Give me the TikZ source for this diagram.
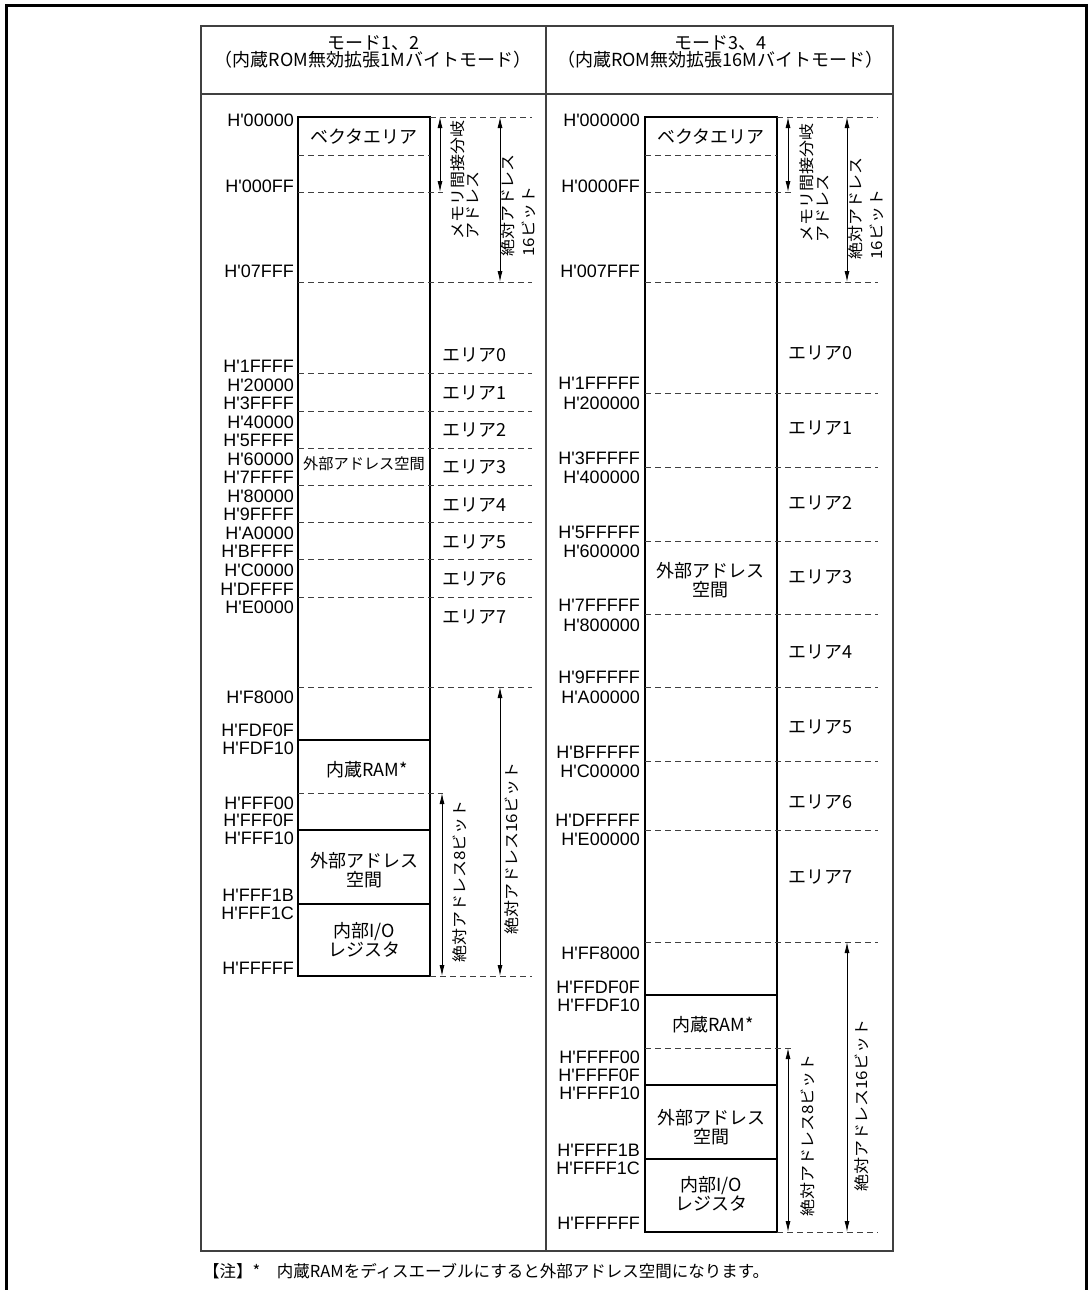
\documentclass[tikz,border=0pt]{standalone}
\usepackage{fontspec}
\setmainfont{Liberation Sans}
\newfontfamily\jpfont{Noto Sans CJK JP}
\usetikzlibrary{arrows.meta}
\newcommand{\hx}{H\textquotesingle}

\begin{document}
\begin{tikzpicture}[
    x=1pt, y=-1pt,
    every node/.style={inner sep=0pt, font=\fontsize{18}{20}\selectfont},
    addr/.style={anchor=east},
    jp/.style={font=\jpfont\fontsize{18}{18.5}\selectfont, align=center},
    jpsmall/.style={font=\jpfont\fontsize{15.2}{16}\selectfont},
    area/.style={font=\jpfont\fontsize{18}{18}\selectfont, anchor=west},
    vtext/.style={font=\jpfont\fontsize{17}{17}\selectfont, rotate=90, yscale=0.9, anchor=west},
    memline/.style={line width=1.4pt},
    tabline/.style={line width=1.2pt, black!75},
    bound/.style={line width=1pt, dash pattern=on 6pt off 4pt, black!75},
    dimarrow/.style={line width=0.9pt, {Latex[length=11pt,width=5pt]}-{Latex[length=11pt,width=5pt]}}
]
\useasboundingbox (0,0) rectangle (1088,1290);

% Outer frame
\draw[line width=3pt] (6,1292) -- (6,6) -- (1086,6) -- (1086,1292);

% Table
\draw[tabline] (201,26) rectangle (893,1251);
\draw[tabline] (201,94) -- (893,94);
\draw[tabline] (546,26) -- (546,1251);

% Headers
\node[jp] (lhead1) at (373,43) {モード1、2};
\node[jp] (lhead2) at (373,60) {（内蔵ROM無効拡張1Mバイトモード）};
\node[jp] (rhead1) at (720,43) {モード3、4};
\node[jp] (rhead2) at (720,60) {（内蔵ROM無効拡張16Mバイトモード）};

% ---------- Mode 1, 2 ----------
\draw[memline] (298,117) rectangle (430,976);
\foreach \y in {740,830,904} {
    \draw[memline] (298,\y) -- (430,\y);
}
\foreach \y in {282,373,411,448,485,522,559,597,687} {
    \draw[bound] (298,\y) -- (532,\y);
}
\draw[bound] (298,155) -- (430,155);
\draw[bound] (298,192) -- (443,192);
\draw[bound] (298,793) -- (443,793);
\draw[bound] (430,117) -- (532,117);
\draw[bound] (430,976) -- (532,976);

% Addresses
\foreach \y/\adr [count=\i] in {120/00000, 186/000FF, 271/07FFF, 366/1FFFF,
    385/20000, 403/3FFFF, 422/40000, 440/5FFFF, 459/60000, 477/7FFFF,
    496/80000, 514/9FFFF, 533/A0000, 551/BFFFF, 570/C0000, 589/DFFFF,
    607/E0000, 697/F8000, 730/FDF0F, 748/FDF10, 803/FFF00, 820/FFF0F,
    838/FFF10, 895/FFF1B, 913/FFF1C, 968/FFFFF} {
    \node[addr] (laddr\i) at (294,\y) {\hx\adr};
}

% Areas
\foreach \y [count=\i from 0] in {355,393,430,467,505,542,579,617} {
    \node[area] (larea\i) at (442,\y) {エリア\i};
}

% Blocks
\node[jp] (lvec) at (364,137) {ベクタエリア};
\node[jpsmall] (lext) at (364,464) {外部アドレス空間};
\node[jp] (lram) at (367,770) {内蔵RAM*};
\node[jp] (lext2) at (364,870) {外部アドレス\\空間};
\node[jp] (lio) at (364,940) {内部I/O\\レジスタ};

% Address ranges
\coordinate (lmemt) at (440,117);
\coordinate (lmemb) at (440,192);
\coordinate (labst) at (500,117);
\coordinate (labsb) at (500,282);
\coordinate (lsixt) at (500,687);
\coordinate (lsixb) at (500,976);
\coordinate (leigt) at (442,793);
\coordinate (leigb) at (442,976);
\draw[dimarrow] (lmemt) -- (lmemb);
\draw[dimarrow] (labst) -- (labsb);
\draw[dimarrow] (lsixt) -- (lsixb);
\draw[dimarrow] (leigt) -- (leigb);
\node[vtext] (lmem1) at (458,240) {メモリ間接分岐};
\node[vtext] (lmem2) at (473,240) {アドレス};
\node[vtext] (labs1) at (508,257) {絶対アドレス};
\node[vtext] (labs2) at (529,257) {16ビット};
\node[vtext] (leig) at (460,963) {絶対アドレス8ビット};
\node[vtext] (lsix) at (512,935) {絶対アドレス16ビット};

% ---------- Mode 3, 4 ----------
\draw[memline] (645,117) rectangle (777,1232);
\foreach \y in {995,1085,1159} {
    \draw[memline] (645,\y) -- (777,\y);
}
\foreach \y in {282,393,467,541,614,687,761,830,942} {
    \draw[bound] (645,\y) -- (878,\y);
}
\draw[bound] (645,155) -- (777,155);
\draw[bound] (645,192) -- (791,192);
\draw[bound] (645,1048) -- (791,1048);
\draw[bound] (777,117) -- (878,117);
\draw[bound] (777,1232) -- (878,1232);

% Addresses
\foreach \y/\adr [count=\i] in {120/000000, 186/0000FF, 271/007FFF,
    383/1FFFFF, 403/200000, 458/3FFFFF, 477/400000, 532/5FFFFF,
    551/600000, 605/7FFFFF, 625/800000, 677/9FFFFF, 697/A00000,
    752/BFFFFF, 771/C00000, 820/DFFFFF, 839/E00000, 953/FF8000,
    987/FFDF0F, 1005/FFDF10, 1057/FFFF00, 1075/FFFF0F, 1093/FFFF10,
    1150/FFFF1B, 1168/FFFF1C, 1223/FFFFFF} {
    \node[addr] (raddr\i) at (640,\y) {\hx\adr};
}

% Areas
\foreach \y [count=\i from 0] in {353,428,503,577,652,727,802,877} {
    \node[area] (rarea\i) at (788,\y) {エリア\i};
}

% Blocks
\node[jp] (rvec) at (711,137) {ベクタエリア};
\node[jp] (rext) at (710,580) {外部アドレス\\空間};
\node[jp] (rram) at (713,1025) {内蔵RAM*};
\node[jp] (rext2) at (711,1127) {外部アドレス\\空間};
\node[jp] (rio) at (711,1194) {内部I/O\\レジスタ};

% Address ranges
\coordinate (rmemt) at (788,117);
\coordinate (rmemb) at (788,192);
\coordinate (rabst) at (847,117);
\coordinate (rabsb) at (847,282);
\coordinate (rsixt) at (847,942);
\coordinate (rsixb) at (847,1232);
\coordinate (reigt) at (788,1048);
\coordinate (reigb) at (788,1232);
\draw[dimarrow] (rmemt) -- (rmemb);
\draw[dimarrow] (rabst) -- (rabsb);
\draw[dimarrow] (rsixt) -- (rsixb);
\draw[dimarrow] (reigt) -- (reigb);
\node[vtext] (rmem1) at (807,243) {メモリ間接分岐};
\node[vtext] (rmem2) at (823,243) {アドレス};
\node[vtext] (rabs1) at (856,260) {絶対アドレス};
\node[vtext] (rabs2) at (877,260) {16ビット};
\node[vtext] (reig) at (808,1217) {絶対アドレス8ビット};
\node[vtext] (rsix) at (862,1192) {絶対アドレス16ビット};

% Note
\node[anchor=west, font=\jpfont\fontsize{16.5}{18}\selectfont] (note) at (203,1271)
    {【注】*　内蔵RAMをディスエーブルにすると外部アドレス空間になります。};

\end{tikzpicture}
\end{document}
